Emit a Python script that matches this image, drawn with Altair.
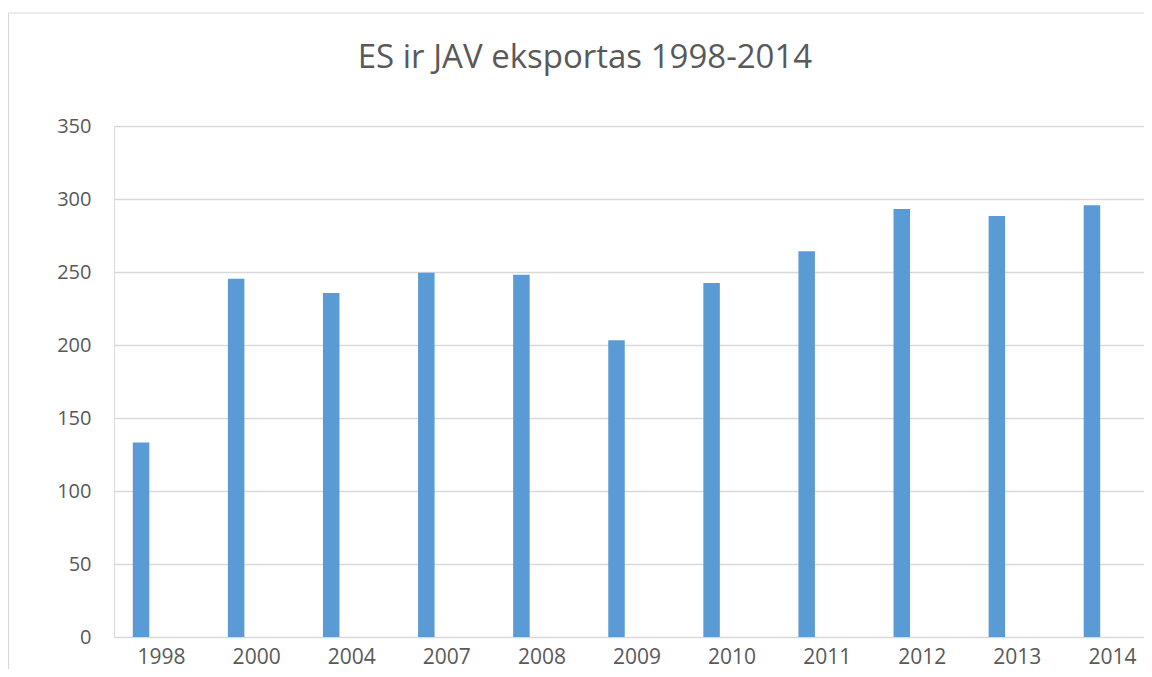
import altair as alt
import pandas as pd

years = ["1998", "2000", "2004", "2007", "2008", "2009", "2010", "2011", "2012", "2013", "2014"]
values = [133.3, 245.4, 235.6, 249.5, 248.2, 203.2, 242.5, 264.2, 293.2, 288.4, 295.7]
y_ticks = [0, 50, 100, 150, 200, 250, 300, 350]
title_text = ["ES ir JAV eksportas 1998-2014"]

df = pd.DataFrame({"year": years, "value": values})
tdf = pd.DataFrame({"t": title_text})

W = 1030
H = 511
FONT = "Open Sans"
GREY = "#595959"

bars = alt.Chart(df).mark_bar(width=16.5, xOffset=-20.5, color="#5B9BD5").encode(
    x=alt.X(
        "year:N",
        sort=years,
        title=None,
        scale=alt.Scale(range=[0, 1046], paddingInner=0, paddingOuter=0),
        axis=alt.Axis(
            labelAngle=0, labelFont=FONT, labelFontSize=21, labelColor=GREY,
            labelPadding=26, labelBaseline="alphabetic", ticks=False, domain=False,
            grid=False,
        ),
    ),
    y=alt.Y(
        "value:Q",
        title=None,
        scale=alt.Scale(domain=[0, 350], nice=False),
        axis=alt.Axis(
            values=y_ticks, labelFont=FONT, labelFontSize=20, labelColor=GREY,
            labelPadding=23, ticks=False, domain=False, grid=True,
            gridColor="#d9d9d9", gridWidth=1.4,
        ),
    ),
)

title = alt.Chart(tdf).mark_text(
    font=FONT, fontSize=33, color=GREY, align="center", baseline="alphabetic"
).encode(text="t:N", x=alt.value(471), y=alt.value(-58))

border_left = alt.Chart(tdf).mark_rule(color="#d9d9d9", strokeWidth=1.2).encode(
    x=alt.value(-105.5), y=alt.value(-113), y2=alt.value(H + 40)
)
border_top = alt.Chart(tdf).mark_rule(color="#d9d9d9", strokeWidth=1.2).encode(
    x=alt.value(-105.5), x2=alt.value(W), y=alt.value(-113)
)

chart = alt.layer(bars, title, border_left, border_top).properties(
    width=W,
    height=H,
    autosize=alt.AutoSizeParams(type="none"),
    padding={"left": 106, "top": 118, "right": 0, "bottom": 32},
).configure_view(stroke=None).configure(background="white")

chart.save("out.html", embed_options={"renderer": "svg", "actions": False})
